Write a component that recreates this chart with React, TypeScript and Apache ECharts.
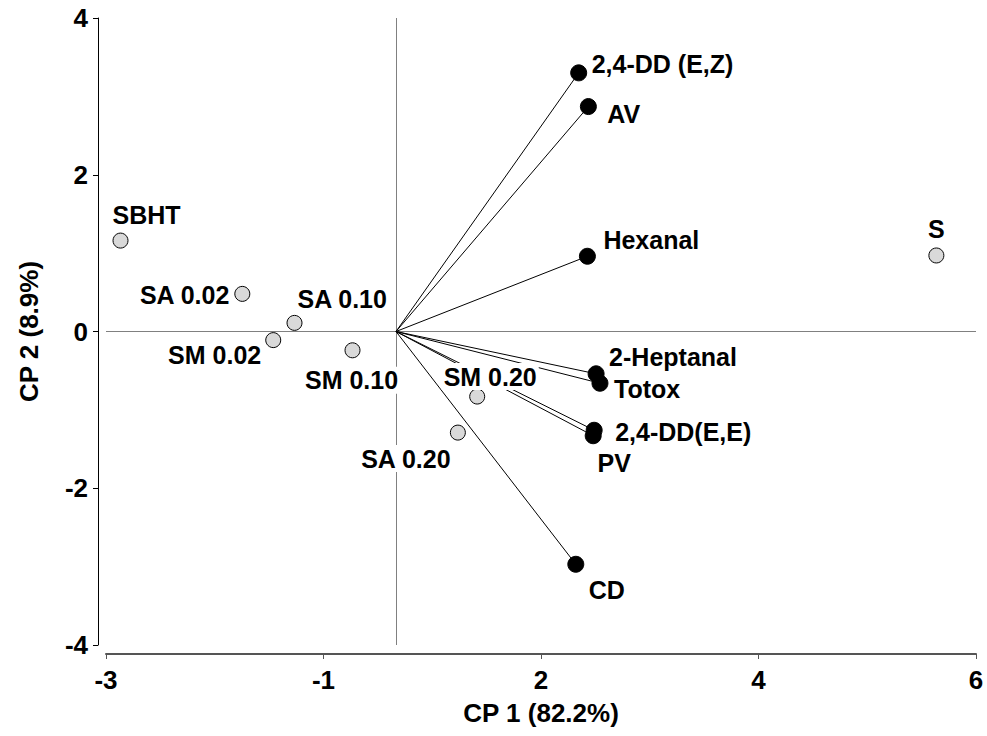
import React, { useEffect, useRef } from "react";
import * as echarts from "echarts";

// Loadings (variables) — black points joined to the origin
const loadingNames = ["2,4-DD (E,Z)", "AV", "Hexanal", "2-Heptanal", "Totox", "2,4-DD(E,E)", "PV", "CD"];
const loadingX = [1.89, 1.99, 1.98, 2.07, 2.11, 2.05, 2.04, 1.86];
const loadingY = [3.30, 2.87, 0.96, -0.54, -0.66, -1.26, -1.33, -2.97];

// Scores (samples) — grey points
const scoreNames = ["SBHT", "SA 0.02", "SA 0.10", "SM 0.02", "SM 0.10", "SM 0.20", "SA 0.20", "S"];
const scoreX = [-2.85, -1.59, -1.05, -1.27, -0.45, 0.84, 0.64, 5.59];
const scoreY = [1.16, 0.48, 0.11, -0.11, -0.24, -0.83, -1.29, 0.97];

// Axes
const xMin = -3;
const xMax = 6;
const xInterval = 2.25;
const xTickLabels = ["-3", "-1", "2", "4", "6"];
const yMin = -4;
const yMax = 4;
const yInterval = 2;
const xTitle = "CP 1 (82.2%)";
const yTitle = "CP 2 (8.9%)";

// Label placement (style only)
const loadingLabelStyle: Record<string, { align: string; offset: number[] }> = {
  "2,4-DD (E,Z)": { align: "left", offset: [13, -9] },
  AV: { align: "left", offset: [19, 7] },
  Hexanal: { align: "left", offset: [16, -16] },
  "2-Heptanal": { align: "left", offset: [13, -17] },
  Totox: { align: "left", offset: [14, 6] },
  "2,4-DD(E,E)": { align: "left", offset: [21, 2] },
  PV: { align: "center", offset: [21, 27] },
  CD: { align: "center", offset: [31, 26] },
};
const scoreLabelStyle: Record<string, { align: string; offset: number[] }> = {
  SBHT: { align: "center", offset: [26, -26] },
  "SA 0.02": { align: "right", offset: [-11, 1] },
  "SA 0.10": { align: "left", offset: [1, -24] },
  "SM 0.02": { align: "right", offset: [-10, 15] },
  "SM 0.10": { align: "center", offset: [-1, 30] },
  "SM 0.20": { align: "center", offset: [13, -20] },
  "SA 0.20": { align: "center", offset: [-52, 26] },
  S: { align: "center", offset: [0, -26] },
};

const FONT = "'Liberation Sans', Arial, Helvetica, sans-serif";
const LABEL_FS = 25;
const AXIS_FS = 26;

export default function App() {
  const ref = useRef<HTMLDivElement>(null);
  useEffect(() => {
    if (!ref.current) return;
    const chart = echarts.init(ref.current, undefined, { renderer: "svg" });

    const labelText = {
      fontFamily: FONT,
      fontWeight: "bold",
      fontSize: LABEL_FS,
      color: "#000",
      textBorderWidth: 0,
    };
    const axisText = { fontFamily: FONT, fontWeight: "bold", fontSize: AXIS_FS, color: "#000" };

    const option: any = {
      animation: false,
      backgroundColor: "#fff",
      grid: { left: 106, right: 11, top: 18, bottom: 91, containLabel: false },
      xAxis: {
        type: "value",
        min: xMin,
        max: xMax,
        interval: xInterval,
        offset: 9,
        axisLine: { show: true, onZero: false, lineStyle: { color: "#555", width: 2 } },
        axisTick: { show: true, length: 5, lineStyle: { color: "#555", width: 1 } },
        axisLabel: {
          ...axisText,
          margin: 13,
          formatter: (v: number) => xTickLabels[Math.round((v - xMin) / xInterval)] ?? "",
        },
        splitLine: { show: false },
        name: xTitle,
        nameLocation: "middle",
        nameGap: 46,
        nameTextStyle: { ...axisText },
      },
      yAxis: {
        type: "value",
        min: yMin,
        max: yMax,
        interval: yInterval,
        offset: 8,
        axisLine: { show: true, onZero: false, lineStyle: { color: "#000", width: 1 } },
        axisTick: { show: true, length: 5, lineStyle: { color: "#000", width: 1 } },
        axisLabel: { ...axisText, margin: 10 },
        splitLine: { show: false },
        name: yTitle,
        nameLocation: "middle",
        nameRotate: 90,
        nameGap: 56,
        nameTextStyle: { ...axisText },
      },
      series: [
        {
          type: "lines",
          coordinateSystem: "cartesian2d",
          silent: true,
          z: 1,
          lineStyle: { color: "#808080", width: 1, opacity: 1 },
          data: [
            { coords: [[xMin, 0], [xMax, 0]] },
            { coords: [[0, yMin], [0, yMax]] },
          ],
        },
        {
          type: "lines",
          coordinateSystem: "cartesian2d",
          silent: true,
          z: 2,
          lineStyle: { color: "#000", width: 1, opacity: 1 },
          data: loadingNames.map((n, i) => ({ coords: [[0, 0], [loadingX[i], loadingY[i]]] })),
        },
        {
          type: "scatter",
          z: 3,
          symbol: "circle",
          symbolSize: 16,
          itemStyle: { color: "#000", borderColor: "#000", borderWidth: 1, opacity: 1 },
          data: loadingNames.map((n, i) => ({
            name: n,
            value: [loadingX[i], loadingY[i]],
            label: {
              show: true,
              position: "inside",
              formatter: n,
              align: loadingLabelStyle[n].align,
              verticalAlign: "middle",
              offset: loadingLabelStyle[n].offset,
              ...labelText,
            },
          })),
        },
        {
          type: "scatter",
          z: 4,
          symbol: "circle",
          symbolSize: 15,
          itemStyle: { color: "#d9d9d9", borderColor: "#000", borderWidth: 1, opacity: 1 },
          data: scoreNames.map((n, i) => ({
            name: n,
            value: [scoreX[i], scoreY[i]],
            label: {
              show: true,
              position: "inside",
              formatter: n,
              align: scoreLabelStyle[n].align,
              verticalAlign: "middle",
              offset: scoreLabelStyle[n].offset,
              backgroundColor: "#fff",
              padding: [1, 2],
              ...labelText,
            },
          })),
        },
      ],
    };
    chart.setOption(option);
    return () => chart.dispose();
  }, []);
  return (
    <div
      ref={ref}
      style={{ position: "fixed", left: 0, top: 0, width: 987, height: 736, background: "#fff" }}
    />
  );
}
